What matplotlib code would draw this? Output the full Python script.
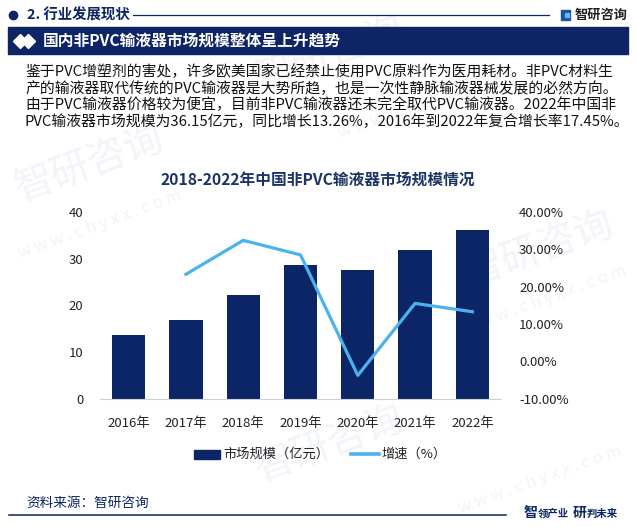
import numpy as np
import matplotlib
matplotlib.use('Agg')
import matplotlib.pyplot as plt
from matplotlib.patches import Rectangle
from matplotlib.lines import Line2D

plt.rcParams['font.family'] = ['Noto Sans CJK SC', 'DejaVu Sans']

# data
years = ['2016年', '2017年', '2018年', '2019年', '2020年', '2021年', '2022年']
market_size = [13.6, 16.8, 22.2, 28.6, 27.6, 31.9, 36.15]      # 亿元
growth = [np.nan, 23.3, 32.4, 28.5, -3.8, 15.5, 13.26]          # %
left_ticks = [0, 10, 20, 30, 40]
right_ticks = [-10, 0, 10, 20, 30, 40]

paragraph = [
    '鉴于PVC增塑剂的害处，许多欧美国家已经禁止使用PVC原料作为医用耗材。非PVC材料生',
    '产的输液器取代传统的PVC输液器是大势所趋，也是一次性静脉输液器械发展的必然方向。',
    '由于PVC输液器价格较为便宜，目前非PVC输液器还未完全取代PVC输液器。2022年中国非',
    'PVC输液器市场规模为36.15亿元，同比增长13.26%，2016年到2022年复合增长率17.45%。',
]

navy = '#0d2565'
bar_col = '#0c2566'
line_col = '#4bb2ee'
W, H = 636, 527

def fx(x):
    return x / W

def fy(y):
    return 1 - y / H

fig = plt.figure(figsize=(6.36, 5.27), dpi=100)

# faint watermarks on a background axes
bg = fig.add_axes([0, 0, 1, 1], zorder=-5)
bg.set_axis_off()
bg.set_xlim(0, W)
bg.set_ylim(H, 0)
wm = '#f1f4f8'
for (x, y) in [(90, 165), (330, 445), (540, 250), (330, 55)]:
    bg.text(x, y, '智研咨询', fontsize=28, color=wm, rotation=20,
            ha='center', va='center')
for (x, y) in [(100, 225), (540, 480), (420, 105), (545, 300)]:
    bg.text(x, y, 'w w w . c h y x x . c o m', fontsize=12, color=wm,
            rotation=20, ha='center', va='center')

# header row
fig.add_artist(Line2D([fx(13)], [fy(15)], marker='o', markersize=6, color=navy))
fig.text(fx(27), fy(15), '2. 行业发展现状', fontsize=10.4, fontweight='bold',
         color=navy, va='center')
fig.add_artist(Line2D([fx(133), fx(549)], [fy(15), fy(15)], color=navy, lw=0.9))
fig.add_artist(Rectangle((fx(561), fy(20)), 9 / W, 10 / H, color='#1f4fa0'))
fig.add_artist(Rectangle((fx(565), fy(17)), 4 / W, 4 / H, color='#5cb8ee'))
fig.text(fx(575), fy(15), '智研咨询', fontsize=9.5, fontweight='bold',
         color='#222222', va='center')

# banner
fig.add_artist(Rectangle((fx(8), fy(54)), 620 / W, 27 / H, color=navy))
fig.add_artist(Line2D([fx(20), fx(28)], [fy(40.5), fy(40.5)], ls='none', marker='D',
                      markersize=7, color='white'))
fig.text(fx(43), fy(40.5), '国内非PVC输液器市场规模整体呈上升趋势', fontsize=11.3,
         fontweight='bold', color='white', va='center')

# paragraph
for i, line in enumerate(paragraph):
    fig.text(fx(25), fy(72 + i * 16.5), line, fontsize=10.7, color='#111111',
             va='center')

# chart title
fig.text(fx(318), fy(180), '2018-2022年中国非PVC输液器市场规模情况', fontsize=11.3,
         fontweight='bold', color='#1b3468', ha='center', va='center')

# chart
ax = fig.add_axes([fx(100), fy(398.5), 401 / W, 186.5 / H])
x = np.arange(len(years))
ax.bar(x, market_size, width=0.58, color=bar_col, zorder=2)
ax.set_xlim(-0.5, len(years) - 0.5)
ax.set_ylim(0, 40)
ax.set_yticks(left_ticks)
ax.set_xticks(x)
ax.set_xticklabels(years)
for s in ['top', 'right', 'left']:
    ax.spines[s].set_visible(False)
ax.spines['bottom'].set_color('#d0d0d0')
ax.tick_params(length=0, labelsize=9.5, colors='#222222')
ax.tick_params(axis='y', pad=12)
ax.tick_params(axis='x', pad=13)

ax2 = ax.twinx()
ax2.plot(x, growth, color=line_col, lw=2.3, zorder=3)
ax2.set_ylim(-10, 40)
ax2.set_yticks(right_ticks)
ax2.set_yticklabels(['%.2f%%' % t for t in right_ticks])
for s in ax2.spines.values():
    s.set_visible(False)
ax2.tick_params(length=0, labelsize=9.5, colors='#222222', pad=13)
ax.patch.set_alpha(0)
ax2.patch.set_alpha(0)

# legend
fig.add_artist(Rectangle((fx(194), fy(458.5)), 26 / W, 9 / H, color=bar_col))
fig.text(fx(223), fy(454), '市场规模（亿元）', fontsize=9.5, color='#222222', va='center')
fig.add_artist(Line2D([fx(351), fx(379)], [fy(454), fy(454)], color=line_col, lw=2.6))
fig.text(fx(381), fy(454), '增速（%）', fontsize=9.5, color='#222222', va='center')

# footer
fig.text(fx(26), fy(503), '资料来源：智研咨询', fontsize=9.8, color=navy, va='center')
fig.add_artist(Line2D([fx(9), fx(506)], [fy(515), fy(515)], color=navy, lw=1.1))
fig.text(fx(524), fy(513), '智', fontsize=10, fontweight='bold', color=navy, va='center')
fig.text(fx(538), fy(513.5), '领产业', fontsize=7.5, fontweight='bold', color=navy, va='center')
fig.text(fx(573), fy(513), '研', fontsize=10, fontweight='bold', color=navy, va='center')
fig.text(fx(587), fy(513.5), '判未来', fontsize=7.5, fontweight='bold', color=navy, va='center')

fig.savefig('out.png', dpi=100)
